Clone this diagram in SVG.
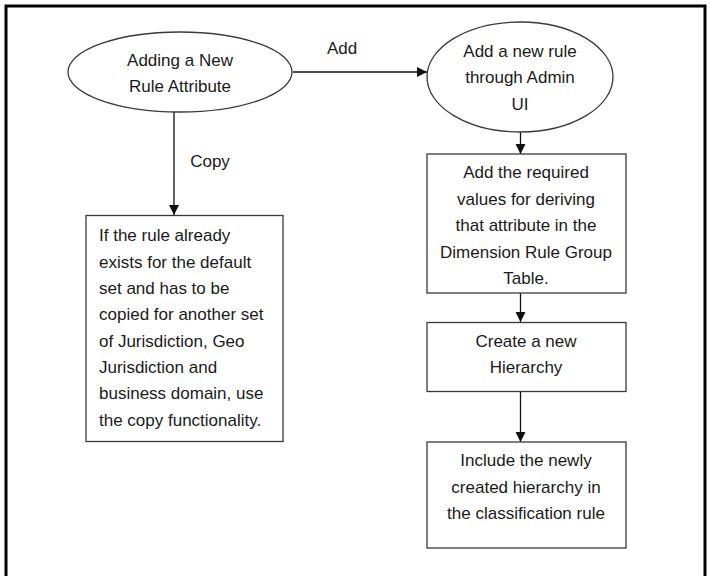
<svg xmlns="http://www.w3.org/2000/svg" width="710" height="576" viewBox="0 0 710 576">
<style>
.n{fill:#fff;stroke:#3a3a3a;stroke-width:1.3}
.t{font-family:"Liberation Sans",Arial,sans-serif;font-size:17px;fill:#1a1a1a}
.c{text-anchor:middle}
.e{stroke:#111;stroke-width:1.3;fill:none}
</style>
<defs>
<marker id="ah" markerWidth="10" markerHeight="10" refX="10" refY="5" orient="auto" markerUnits="userSpaceOnUse">
<path d="M0,0 L10,5 L0,10 Z" fill="#111"/>
</marker>
</defs>
<rect width="710" height="576" fill="#fff"/>
<path d="M6,576 V6 H705 V576" fill="none" stroke="#000" stroke-width="3"/>
<g id="connectors">
<line class="e" x1="293" y1="72" x2="427" y2="72" marker-end="url(#ah)"/>
<text class="t c" x="342" y="54">Add</text>
<line class="e" x1="174" y1="112" x2="174" y2="215" marker-end="url(#ah)"/>
<text class="t c" x="210" y="167">Copy</text>
<line class="e" x1="520.5" y1="132" x2="520.5" y2="154" marker-end="url(#ah)"/>
<line class="e" x1="520.5" y1="293" x2="520.5" y2="322" marker-end="url(#ah)"/>
<line class="e" x1="520.5" y1="392" x2="520.5" y2="442" marker-end="url(#ah)"/>
</g>
<g id="node-adding">
<ellipse class="n" cx="180" cy="72" rx="112" ry="40"/>
<text class="t c" x="180" y="66">Adding a New</text>
<text class="t c" x="180" y="92">Rule Attribute</text>
</g>
<g id="node-addrule">
<ellipse class="n" cx="520" cy="77" rx="93" ry="55"/>
<text class="t c" x="520" y="57">Add a new rule</text>
<text class="t c" x="520" y="83">through Admin</text>
<text class="t c" x="520" y="110">UI</text>
</g>
<g id="node-copy">
<rect class="n" x="86" y="215.5" width="197" height="226"/>
<text class="t" x="99" y="241">If the rule already</text>
<text class="t" x="99" y="268">exists for the default</text>
<text class="t" x="99" y="294">set and has to be</text>
<text class="t" x="99" y="320">copied for another set</text>
<text class="t" x="99" y="347">of Jurisdiction, Geo</text>
<text class="t" x="99" y="373">Jurisdiction and</text>
<text class="t" x="99" y="399">business domain, use</text>
<text class="t" x="99" y="426">the copy functionality.</text>
</g>
<g id="node-values">
<rect class="n" x="427" y="154" width="199" height="139"/>
<text class="t c" x="526" y="178">Add the required</text>
<text class="t c" x="526" y="205">values for deriving</text>
<text class="t c" x="526" y="231">that attribute in the</text>
<text class="t c" x="526" y="258">Dimension Rule Group</text>
<text class="t c" x="526" y="284">Table.</text>
</g>
<g id="node-hierarchy">
<rect class="n" x="427" y="322.5" width="199" height="69"/>
<text class="t c" x="526" y="347">Create a new</text>
<text class="t c" x="526" y="373">Hierarchy</text>
</g>
<g id="node-include">
<rect class="n" x="427" y="442" width="199" height="106"/>
<text class="t c" x="526" y="466">Include the newly</text>
<text class="t c" x="526" y="493">created hierarchy in</text>
<text class="t c" x="526" y="519">the classification rule</text>
</g>
</svg>
